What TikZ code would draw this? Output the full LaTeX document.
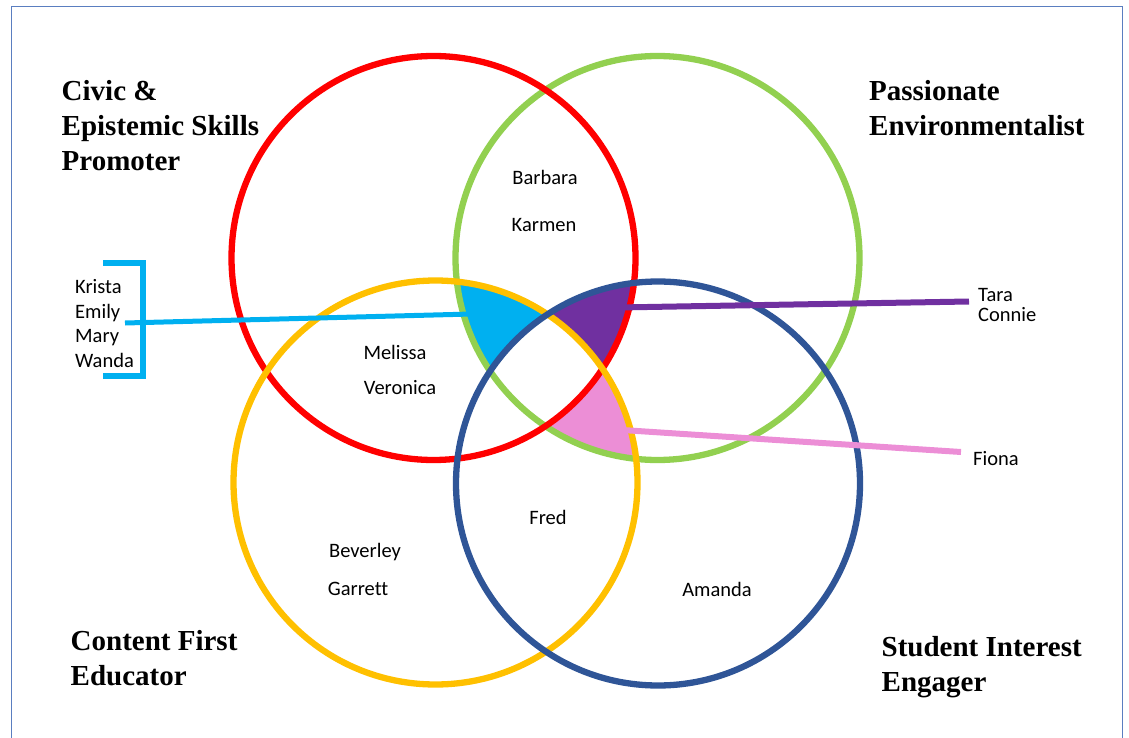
\documentclass[tikz,border=0pt]{standalone}
\usepackage{fontspec}
\setmainfont{Liberation Serif}
\newfontfamily\namefont[Ligatures=NoCommon]{Carlito}
\definecolor{cRed}{HTML}{FF0000}
\definecolor{cGreen}{HTML}{92D050}
\definecolor{cYellow}{HTML}{FFC000}
\definecolor{cNavy}{HTML}{2F5597}
\definecolor{cCyan}{HTML}{00B0F0}
\definecolor{cPurple}{HTML}{7030A0}
\definecolor{cPink}{HTML}{EC8ED6}
\definecolor{cFrame}{HTML}{5A7EC0}
\tikzset{
  ring/.style={circle, minimum size=404pt, inner sep=0pt, line width=6.3pt},
  ttl/.style={font=\fontsize{29}{35}\selectfont\bfseries, align=left, inner sep=0pt, anchor=base west},
  who/.style={font=\namefont\fontsize{20.5}{24.5}\selectfont, inner sep=0pt},
  conn/.style={line width=6pt}
}
\begin{document}
\begin{tikzpicture}[x=1pt,y=-1pt]
\useasboundingbox (0,0) rectangle (1129,738);
\draw[cFrame, line width=1.3pt] (11.5,760) -- (11.5,6.3) -- (1122.7,6.3) -- (1122.7,760);

% centres
\coordinate (cR) at (433.5,258);
\coordinate (cG) at (657.5,258);
\coordinate (cY) at (435.5,482.5);
\coordinate (cB) at (658,483.5);

% coloured regions
\begin{scope}
  \clip (cR) circle[radius=202];
  \clip (cG) circle[radius=202];
  \clip (cY) circle[radius=202];
  \fill[cCyan] (0,0) rectangle (1129,738);
  \fill[white] (cB) circle[radius=202];
\end{scope}
\begin{scope}
  \clip (cR) circle[radius=202];
  \clip (cG) circle[radius=202];
  \clip (cB) circle[radius=202];
  \fill[cPurple] (0,0) rectangle (1129,738);
  \fill[white] (cY) circle[radius=202];
\end{scope}
\begin{scope}
  \clip (cG) circle[radius=202];
  \clip (cY) circle[radius=202];
  \clip (cB) circle[radius=202];
  \fill[cPink] (0,0) rectangle (1129,738);
  \fill[white] (cR) circle[radius=202];
\end{scope}

% rings
\node[ring, draw=cGreen] (G) at (cG) {};
\node[ring, draw=cRed] (R) at (cR) {};
\node[ring, draw=cYellow] (Y) at (cY) {};
\node[ring, draw=cNavy] (B) at (cB) {};

% bracket and connectors
\coordinate (bt1) at (103,263);
\coordinate (bt2) at (143,263);
\coordinate (bb2) at (143,376);
\coordinate (bb1) at (103,376);
\draw[cCyan, line width=5.5pt] (bt1) -- (bt2) -- (bb2) -- (bb1);
\coordinate (cyS) at (125,323);
\coordinate (cyE) at (472,314);
\draw[cCyan, conn, line width=5pt] (cyS) -- (cyE);
\coordinate (puS) at (618,307.5);
\coordinate (puE) at (969,301.5);
\draw[cPurple, conn] (puS) -- (puE);
\coordinate (piS) at (622,430);
\coordinate (piE) at (961,452);
\draw[cPink, conn] (piS) -- (piE);

% titles (anchor = baseline of last line)
\node[ttl] (t1) at (61.5,170.5) {Civic \&\\Epistemic Skills\\Promoter};
\node[ttl] (t2) at (869,136) {Passionate\\Environmentalist};
\node[ttl] (t3) at (70.5,685) {Content First\\Educator};
\node[ttl] (t4) at (881.5,691.5) {Student Interest\\Engager};

% names
\node[who] (barbara) at (545,177) {Barbara};
\node[who] (karmen) at (544,225) {Karmen};
\node[who] (melissa) at (395,352) {Melissa};
\node[who] (veronica) at (400,388) {Veronica};
\node[who] (fred) at (548,517) {Fred};
\node[who] (beverley) at (365,552) {Beverley};
\node[who] (garrett) at (358,589) {Garrett};
\node[who] (amanda) at (717,589) {Amanda};
\node[who, anchor=west, align=left] (krista) at (75,323.5) {Krista\\Emily\\Mary\\Wanda};
\node[who, anchor=west, align=left, font=\namefont\fontsize{20.5}{20.5}\selectfont] (tara) at (978,305) {Tara\\Connie};
\node[who, anchor=west] (fiona) at (973,459) {Fiona};
\end{tikzpicture}
\end{document}
